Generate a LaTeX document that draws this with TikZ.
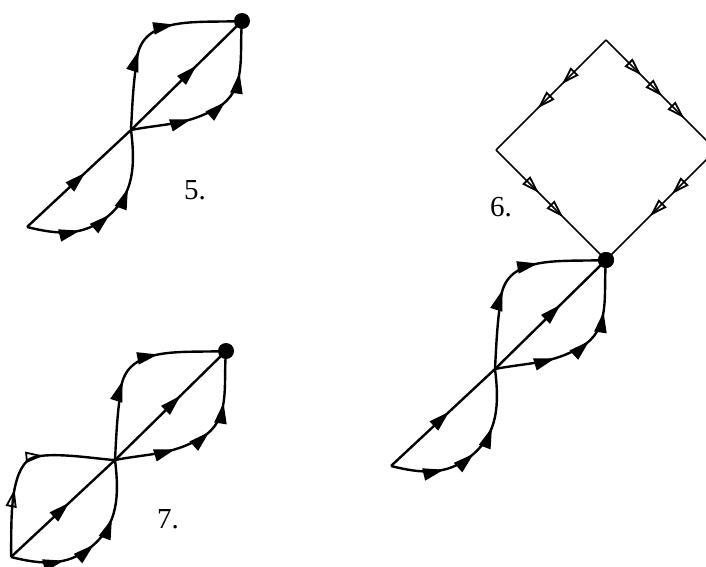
\documentclass[tikz,border=0pt]{standalone}
\usepackage{fontspec}
\setmainfont{Liberation Serif}
\usetikzlibrary{arrows.meta,decorations.markings}
\tikzset{
  ln/.style={line width=2.4pt},
  dl/.style={line width=1.5pt},
  fa/.style={postaction={decorate,decoration={markings,mark=at position #1 with {\arrow{Triangle[length=21pt,width=12pt]}}}}},
  oa/.style={postaction={decorate,decoration={markings,mark=at position #1 with {\arrow[line width=1.8pt]{Triangle[open,length=18pt,width=11pt]}}}}},
  dot/.style={circle,fill=black,minimum size=16pt,inner sep=0pt},
  lbl/.style={font=\fontsize{29}{31}\selectfont,inner sep=0pt}
}
\newcommand{\eightfig}[1]{%
  \coordinate (#1c) at (0,0);
  \coordinate (#1d) at (111,109);
  \coordinate (#1k) at (-104,-97);
  \coordinate (#1u) at (6,72);
  \coordinate (#1r) at (86,22);
  \coordinate (#1l) at (-24,-87);
  \draw[ln,fa=0.56] (#1k) -- (#1c);
  \draw[ln,fa=0.59] (#1c) -- (#1d);
  \draw[ln,fa=0.41,fa=0.65] (#1c) to[out=87,in=-98] (#1u) to[out=82,in=183] (#1d);
  \draw[ln,fa=0.33,fa=0.54,fa=0.72] (#1c) to[out=11,in=210] (#1r) to[out=30,in=-95] (#1d);
  \draw[ln,fa=0.30,fa=0.49,fa=0.67] (#1k) to[out=-14,in=219] (#1l) to[out=39,in=-83] (#1c);
  \node[dot] (#1dot) at (#1d) {};
}
\begin{document}
\begin{tikzpicture}[x=1pt,y=1pt]
\useasboundingbox (0,0) rectangle (706,566);
\begin{scope}[shift={(131,436)}] \eightfig{f5} \end{scope}
\begin{scope}[shift={(495,197)}] \eightfig{f6} \end{scope}
\begin{scope}[shift={(115,106)}] \eightfig{f7} \end{scope}
% diamond of figure 6
\coordinate (f6t) at (606,526);
\coordinate (f6lv) at (496,416);
\coordinate (f6rv) at (716,416);
\draw[dl,oa=0.40,oa=0.62] (f6t) -- (f6lv);
\draw[dl,oa=0.32,oa=0.51,oa=0.71] (f6t) -- (f6rv);
\draw[dl,oa=0.39,oa=0.61] (f6lv) -- (f6d);
\draw[dl,oa=0.40,oa=0.60] (f6rv) -- (f6d);
\node[dot] at (f6d) {};
% extra loop of figure 7
\coordinate (f7v) at (27,105);
\draw[ln,oa=0.36,oa=0.62] (f7k) to[out=88,in=225,looseness=0.7] (f7v) to[out=45,in=178,looseness=0.5] (f7c);
% labels
\node[lbl] (l5) at (195,376) {5.};
\node[lbl] (l6) at (501,359) {6.};
\node[lbl] (l7) at (168,47) {7.};
\end{tikzpicture}
\end{document}
